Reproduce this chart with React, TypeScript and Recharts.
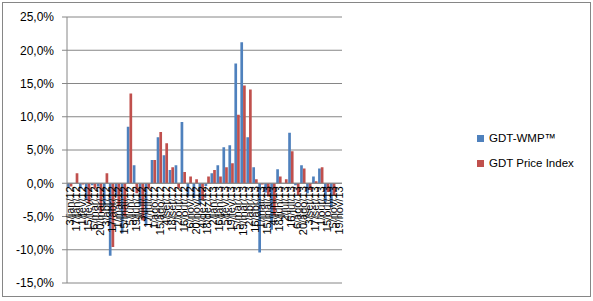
import { Bar, BarChart, CartesianGrid, Legend, ReferenceLine, XAxis, YAxis } from "recharts";

const dates = [
    "3/jan/12", "17/jan/12", "1/fev/12", "15/fev/12", "6/mar/12", "20/mar/12", "3/abr/12", "17/abr/12",
    "1/mai/12", "15/mai/12", "5/jun/12", "19/jun/12", "3/jul/12", "17/jul/12", "1/ago/12", "15/ago/12",
    "4/set/12", "18/set/12", "2/out/12", "16/out/12", "6/nov/12", "20/nov/12", "4/dez/12", "18/dez/12",
    "2/jan/13", "16/jan/13", "5/fev/13", "19/fev/13", "5/mar/13", "19/mar/13", "2/abr/13", "16/abr/13",
    "1/mai/13", "15/mai/13", "4/jun/13", "18/jun/13", "2/jul/13", "16/jul/13", "6/ago/13", "20/ago/13",
    "3/set/13", "17/set/13", "1/out/13", "15/out/13", "5/nov/13", "19/nov/13",
];

const wmp = [
    -0.7, 0, -0.8, -2.5, -0.3, -0.5, -3.4, -10.9,
    -2.0, -7.5, 8.5, 2.7, -3.5, -6.4, 3.5, 6.9,
    4.2, 2.0, 2.7, 9.2, -2.0, -2.2, -3.2, -0.4,
    1.5, 2.7, 5.4, 5.7, 18.0, 21.2, 6.9, 2.4,
    -10.4, -1.4, -7.0, 2.1, 0, 7.6, -0.3, 2.7,
    -1.5, 1.0, 2.2, -2.8, -3.6, 0,
];

const priceIndex = [
    -0.5, 1.5, -0.2, -3.0, -0.8, -4.5, 1.5, -9.6,
    -3.5, -5.0, 13.5, -1.5, -5.6, -0.8, 3.5, 7.7,
    6.0, 2.4, -0.8, 1.7, 1.0, 0.6, -2.5, 1.0,
    2.0, 1.0, 2.4, 3.0, 10.3, 14.7, 14.1, 0.6,
    -0.2, -2.0, -4.8, 1.0, 0.6, 4.8, -1.8, 2.2,
    -1.0, 0.3, 2.4, -1.3, -1.8, 0,
];

const yTicks = [-15, -10, -5, 0, 5, 10, 15, 20, 25];

const data = dates.map((d, i) => ({ date: d, wmp: wmp[i], gdt: priceIndex[i] }));

const W = 593;
const H = 301;
const PLOT_TOP = 17;
const PLOT_BOTTOM = 283;
const Y_MIN = -15;
const Y_MAX = 25;
const ZERO_Y = PLOT_TOP + ((PLOT_BOTTOM - PLOT_TOP) * Y_MAX) / (Y_MAX - Y_MIN);

const FONT = "'Liberation Sans', Arial, sans-serif";
const BLUE = "#4F81BD";
const RED = "#C0504D";

const DateTick = (props: any) => {
    const { x, payload } = props;
    return (
        <text
            transform={`translate(${x + 4},${ZERO_Y + 3}) rotate(-90)`}
            textAnchor="end"
            fontSize={11}
            fontFamily={FONT}
            fill="#000"
        >
            {payload.value}
        </text>
    );
};

const LegendBox = () => (
    <div style={{ fontFamily: FONT, fontSize: 11.5, color: "#000" }}>
        <div style={{ display: "flex", alignItems: "center", height: 14 }}>
            <span style={{ width: 7, height: 7, background: BLUE, marginRight: 5 }} />
            GDT-WMP™
        </div>
        <div style={{ display: "flex", alignItems: "center", height: 14, marginTop: 11 }}>
            <span style={{ width: 7, height: 7, background: RED, marginRight: 5 }} />
            GDT Price Index
        </div>
    </div>
);

const App = () => {
    return (
        <div style={{ position: "absolute", left: 0, top: 0, width: W, height: H, background: "#fff" }}>
            <div
                style={{
                    position: "absolute",
                    left: 2,
                    top: 2,
                    width: 587,
                    height: 293,
                    border: "1px solid #868686",
                }}
            />
            <BarChart
                width={W}
                height={H}
                data={data}
                margin={{ top: PLOT_TOP, right: W - 457, bottom: H - PLOT_BOTTOM - 1, left: 0 }}
                barGap={0}
                barSize={3}
            >
                <CartesianGrid vertical={false} stroke="#868686" />
                <XAxis
                    dataKey="date"
                    interval={0}
                    height={1}
                    axisLine={false}
                    tickLine={false}
                    tick={<DateTick />}
                />
                <YAxis
                    width={67}
                    domain={[Y_MIN, Y_MAX]}
                    ticks={yTicks}
                    allowDataOverflow
                    stroke="#868686"
                    tickSize={5}
                    tickMargin={8}
                    tick={{ fill: "#000", fontSize: 12, fontFamily: FONT }}
                    tickFormatter={(v: number) => v.toFixed(1).replace(".", ",") + "%"}
                />
                <ReferenceLine y={0} stroke="#868686" />
                <Legend
                    layout="vertical"
                    align="right"
                    verticalAlign="top"
                    content={<LegendBox />}
                    wrapperStyle={{ left: 477, top: 131, width: 115 }}
                />
                <Bar dataKey="wmp" name="GDT-WMP™" fill={BLUE} isAnimationActive={false} />
                <Bar dataKey="gdt" name="GDT Price Index" fill={RED} isAnimationActive={false} />
            </BarChart>
        </div>
    );
};

export default App;
